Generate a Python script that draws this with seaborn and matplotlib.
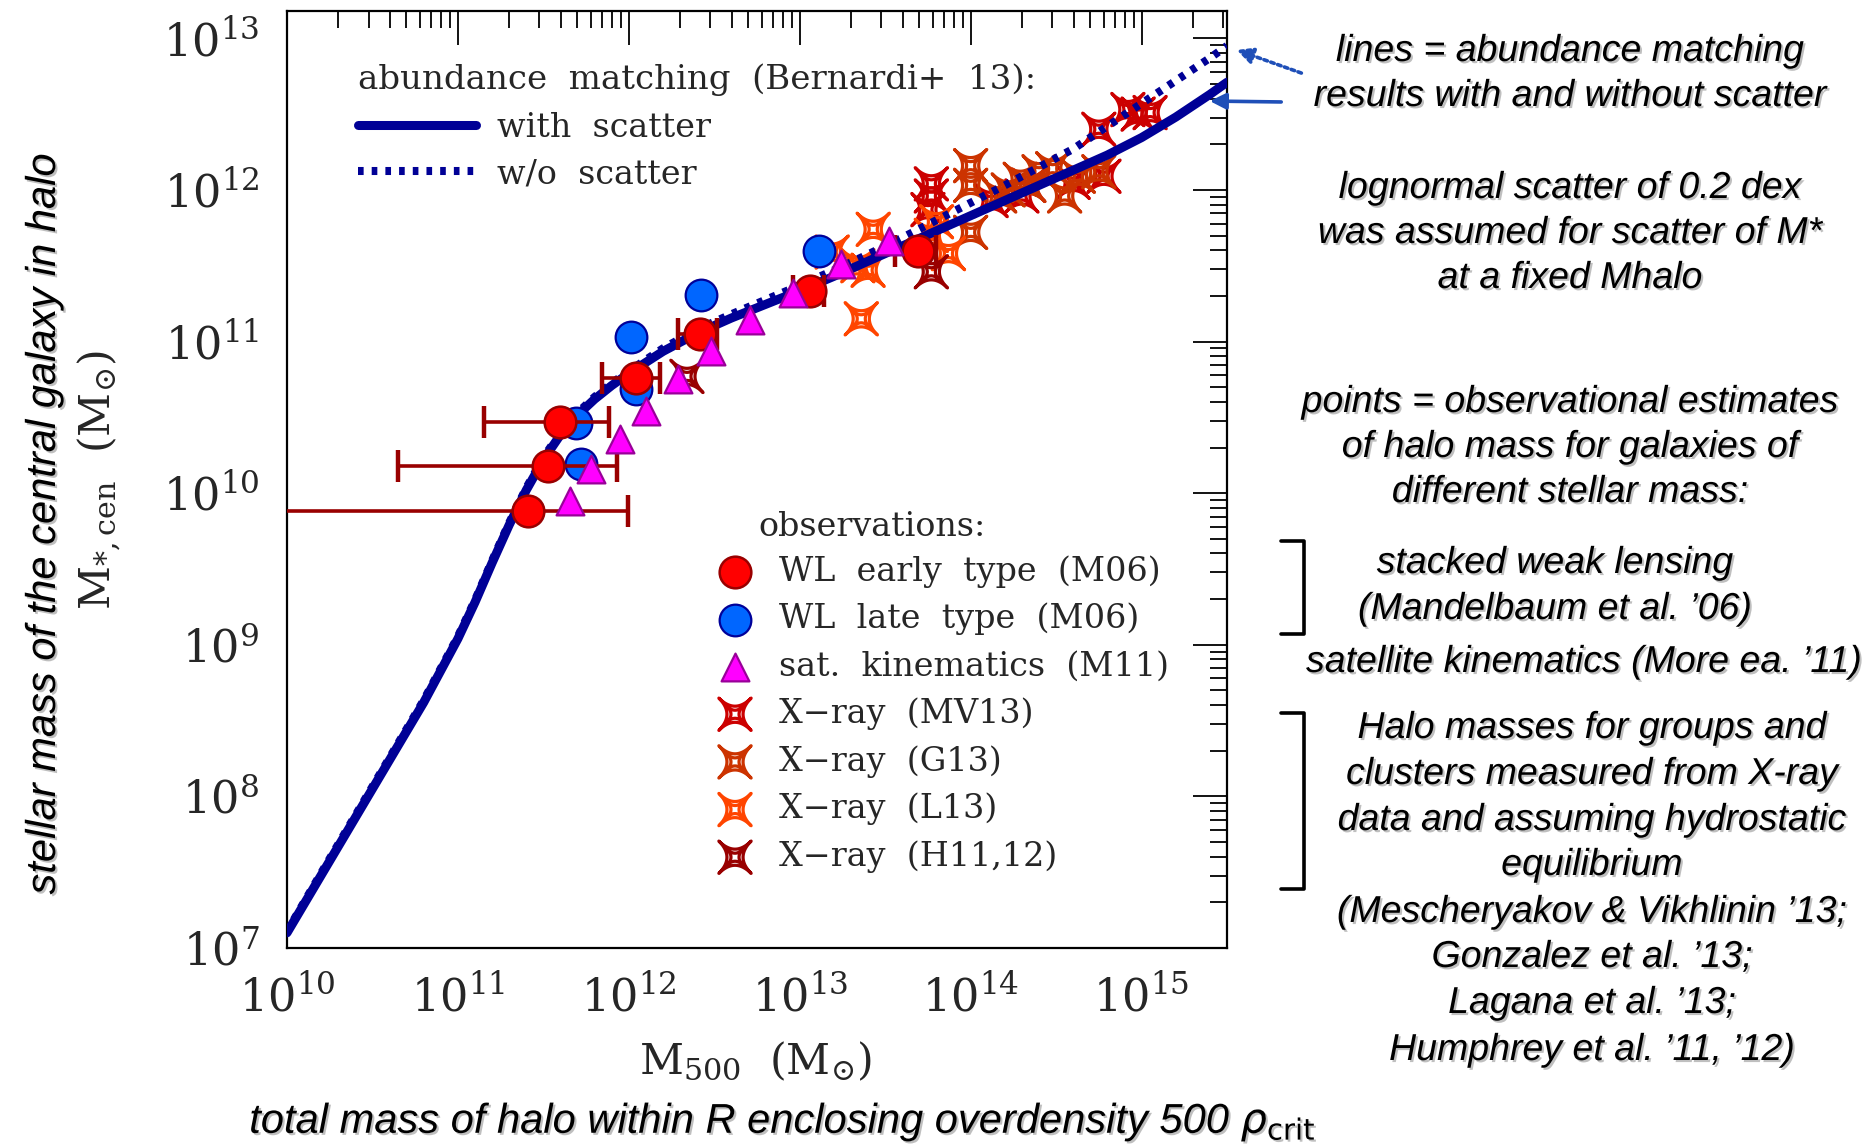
import numpy as np
import matplotlib
matplotlib.use("Agg")
import matplotlib.pyplot as plt
import seaborn as sns
from matplotlib.path import Path
from matplotlib.lines import Line2D
from matplotlib.patches import FancyArrowPatch
import matplotlib.patheffects as pe
from matplotlib.ticker import LogLocator, NullFormatter

# ---------------- data (log10 values) ----------------
am_log_mhalo = [10.0, 10.2, 10.4, 10.6, 10.8, 11.0, 11.1, 11.2, 11.3, 11.4, 11.5, 11.6,
                11.7, 11.8, 11.9, 12.0, 12.2, 12.4, 12.6, 12.8, 13.0, 13.2, 13.4, 13.6,
                13.8, 14.0, 14.2, 14.4, 14.6, 14.8, 15.0, 15.2, 15.4, 15.5]
am_log_mstar_scatter = [7.10, 7.48, 7.86, 8.24, 8.62, 9.04, 9.28, 9.54, 9.79, 10.02, 10.22, 10.385,
                        10.515, 10.62, 10.71, 10.79, 10.935, 11.055, 11.155, 11.245, 11.335, 11.43, 11.53, 11.63,
                        11.73, 11.83, 11.93, 12.03, 12.13, 12.23, 12.345, 12.48, 12.63, 12.71]
am_log_mstar_noscatter = [7.11, 7.495, 7.875, 8.255, 8.635, 9.055, 9.295, 9.555, 9.805, 10.035, 10.235, 10.40,
                          10.53, 10.635, 10.725, 10.805, 10.955, 11.08, 11.18, 11.275, 11.37, 11.47, 11.575, 11.685,
                          11.80, 11.915, 12.03, 12.15, 12.27, 12.42, 12.57, 12.72, 12.87, 12.95]

wl_early_log_mh = [11.41, 11.53, 11.60, 12.044, 12.415, 13.06, 13.69]
wl_early_log_ms = [9.88, 10.18, 10.47, 10.76, 11.05, 11.33, 11.60]
wl_early_log_mh_lo = [9.0, 10.648, 11.152, 11.844, 12.288, 12.96, 13.56]
wl_early_log_mh_hi = [11.996, 11.932, 11.883, 12.185, 12.516, 13.14, 13.80]

wl_late_log_mh = [11.69, 11.72, 12.04, 12.01, 12.42, 13.11]
wl_late_log_ms = [10.46, 10.19, 10.69, 11.03, 11.31, 11.60]

satkin_log_mh = [11.655, 11.78, 11.947, 12.10, 12.29, 12.48, 12.71, 12.96, 13.24, 13.52]
satkin_log_ms = [9.95, 10.16, 10.355, 10.545, 10.75, 10.935, 11.14, 11.32, 11.51, 11.665]

xray_mv13_log_mh = [13.77, 13.75, 13.77, 14.12, 14.30, 14.34, 14.60, 14.78, 14.75, 14.92, 15.05, 14.98]
xray_mv13_log_ms = [12.04, 11.87, 11.96, 11.93, 11.96, 12.03, 12.05, 12.09, 12.40, 12.53, 12.51, 12.50]

xray_g13_log_mh = [14.00, 14.00, 14.00, 14.17, 14.29, 14.34, 14.40, 14.48, 14.55, 14.63, 14.75, 14.22]
xray_g13_log_ms = [12.16, 12.03, 11.72, 11.96, 12.07, 12.03, 12.12, 12.14, 11.96, 12.09, 12.12, 12.00]

xray_l13_log_mh = [13.36, 13.43, 13.40, 13.34, 13.19, 13.80, 13.87, 13.77]
xray_l13_log_ms = [11.15, 11.74, 11.47, 11.50, 11.59, 11.79, 11.58, 11.70]

xray_h11_log_mh = [12.34, 13.77]
xray_h11_log_ms = [10.77, 11.46]

legend_lines_labels = ["with  scatter", "w/o  scatter"]
legend_obs_labels = ["WL  early  type  (M06)", "WL  late  type  (M06)", "sat.  kinematics  (M11)",
                     "X\u2212ray  (MV13)", "X\u2212ray  (G13)", "X\u2212ray  (L13)", "X\u2212ray  (H11,12)"]


def p10(v):
    return 10 ** np.asarray(v, dtype=float)


# ---------------- style ----------------
sns.set_style("white")
plt.rcParams["font.family"] = ["DejaVu Serif"]
plt.rcParams["mathtext.fontset"] = "dejavuserif"
plt.rcParams["axes.linewidth"] = 1.5

W, H = 1864, 1148


def fp(x, y):
    return (x / W, 1 - y / H)


fig = plt.figure(figsize=(W / 100, H / 100), dpi=100)
ax = fig.add_axes([287 / W, 1 - 948 / H, 940 / W, 937 / H])
ax.set_xscale("log")
ax.set_yscale("log")

# star marker (4-pointed, concave, with inner outline)
t = np.linspace(0, 2 * np.pi, 241)
pw = 4.0
cx = np.sign(np.cos(t)) * np.abs(np.cos(t)) ** pw
cy = np.sign(np.sin(t)) * np.abs(np.sin(t)) ** pw
rx = (cx - cy) / np.sqrt(2)
ry = (cx + cy) / np.sqrt(2)
outer = np.column_stack([rx, ry])
inner = outer * 0.5
verts = np.vstack([outer, inner])
codes = ([Path.MOVETO] + [Path.LINETO] * (len(outer) - 2) + [Path.CLOSEPOLY]) * 2
star = Path(verts, codes)

navy = "#000096"
# X-ray stars (bottom layer)
for mh, ms, col, lab in [
    (xray_mv13_log_mh, xray_mv13_log_ms, "#CC0000", legend_obs_labels[3]),
    (xray_g13_log_mh, xray_g13_log_ms, "#CC3300", legend_obs_labels[4]),
    (xray_l13_log_mh, xray_l13_log_ms, "#FF4500", legend_obs_labels[5]),
    (xray_h11_log_mh, xray_h11_log_ms, "#990000", legend_obs_labels[6]),
]:
    sns.scatterplot(x=p10(mh), y=p10(ms), marker=star, s=540, color=col, facecolor="none",
                    edgecolor=col, linewidth=2.3, ax=ax, legend=False, label=lab, zorder=2)

# abundance matching lines
sns.lineplot(x=p10(am_log_mhalo), y=p10(am_log_mstar_noscatter), ax=ax, color=navy,
             linewidth=5.8, linestyle=(0, (0.7, 1.0)), sort=False, estimator=None,
             legend=False, label=legend_lines_labels[1], zorder=3)
sns.lineplot(x=p10(am_log_mhalo), y=p10(am_log_mstar_scatter), ax=ax, color=navy,
             linewidth=6.5, sort=False, estimator=None, legend=False,
             label=legend_lines_labels[0], zorder=3.1)

# weak lensing late type
sns.scatterplot(x=p10(wl_late_log_mh), y=p10(wl_late_log_ms), marker="o", s=520,
                color="#0066FF", edgecolor="#000099", linewidth=1.6, ax=ax, legend=False,
                label=legend_obs_labels[1], zorder=4)
# error bars of early type
xe = p10(wl_early_log_mh)
ax.errorbar(xe, p10(wl_early_log_ms),
            xerr=[xe - p10(wl_early_log_mh_lo), p10(wl_early_log_mh_hi) - xe],
            fmt="none", ecolor="#990000", elinewidth=2.6, capsize=11.5, capthick=3.2, zorder=4.5)
sns.scatterplot(x=xe, y=p10(wl_early_log_ms), marker="o", s=520, color="#FF0000",
                edgecolor="#990000", linewidth=1.8, ax=ax, legend=False,
                label=legend_obs_labels[0], zorder=5)
# satellite kinematics
sns.scatterplot(x=p10(satkin_log_mh), y=p10(satkin_log_ms), marker="^", s=400, color="#FF00FF",
                edgecolor="#990099", linewidth=1.6, ax=ax, legend=False,
                label=legend_obs_labels[2], zorder=6)

# ---------------- axes ----------------
ax.set_xlim(1e10, 10 ** 15.5)
ax.set_ylim(1e7, 10 ** 13.18)
for a in (ax.xaxis, ax.yaxis):
    a.set_major_locator(LogLocator(base=10, numticks=30))
    a.set_minor_locator(LogLocator(base=10, subs=np.arange(2, 10), numticks=30))
    a.set_minor_formatter(NullFormatter())
ax.tick_params(which="both", direction="in", top=True, right=True, color="black")
ax.tick_params(which="major", length=24.5, width=1.3, labelsize=32, pad=20)
ax.tick_params(which="minor", length=12.5, width=1.3)
for s in ax.spines.values():
    s.set_color("black")
    s.set_linewidth(1.6)

xl = ax.set_xlabel(r"$\mathrm{M}_{500}\ \ (\mathrm{M}_{\odot})$", fontsize=31)
xl.set_verticalalignment("center")
ax.xaxis.set_label_coords((756 - 287) / 940, (948 - 1062) / 937)
yl = ax.set_ylabel(r"$\mathrm{M}_{*,\mathrm{cen}}\ \ (\mathrm{M}_{\odot})$", fontsize=31)
yl.set_verticalalignment("center")
ax.yaxis.set_label_coords((100 - 287) / 940, (948 - 480) / 937)

# ---------------- legends ----------------
handles, labels = ax.get_legend_handles_labels()
hmap = dict(zip(labels, handles))
lprop = {"family": "DejaVu Serif", "size": 24}
leg1 = ax.legend([hmap[l] for l in legend_lines_labels], legend_lines_labels,
                 loc="center left", bbox_to_anchor=fp(358, 151), bbox_transform=fig.transFigure,
                 frameon=False, prop=lprop, handlelength=3.55, handletextpad=0.63,
                 labelspacing=0.42, borderpad=0, borderaxespad=0)
ax.add_artist(leg1)
leg2 = ax.legend([hmap[l] for l in legend_obs_labels], legend_obs_labels,
                 loc="center left", bbox_to_anchor=fp(719, 714), bbox_transform=fig.transFigure,
                 frameon=False, prop=lprop, handlelength=0.96, handletextpad=0.84,
                 labelspacing=0.45, borderpad=0, borderaxespad=0, scatterpoints=1)
fig.text(*fp(358, 80), "abundance  matching  (Bernardi+  13):", ha="left", va="center",
         family="DejaVu Serif", size=24.5)
fig.text(*fp(758, 527), "observations:", ha="left", va="center", family="DejaVu Serif", size=24)

# ---------------- annotations ----------------
shadow = [pe.withSimplePatchShadow(offset=(1.5, -1.5), shadow_rgbFace=(0.55, 0.55, 0.55), alpha=0.55)]
sans = dict(family=["Liberation Sans", "DejaVu Sans"], style="italic", color="black",
            path_effects=shadow)

fig.text(*fp(44, 524), "stellar mass of the central galaxy in halo", rotation=90,
         ha="center", va="center", size=30, **sans)
fig.text(*fp(782, 1122), r"total mass of halo within R enclosing overdensity 500 $\rho_{\rm crit}$",
         ha="center", va="center", size=30, math_fontfamily="dejavusans", **sans)

notes = [
    ("lines = abundance matching", 1570, 51),
    ("results with and without scatter", 1570, 96),
    ("lognormal scatter of 0.2 dex", 1570, 188),
    ("was assumed for scatter of M*", 1570, 233),
    ("at a fixed Mhalo", 1570, 278),
    ("points = observational estimates", 1570, 402),
    ("of halo mass for galaxies of", 1570, 447),
    ("different stellar mass:", 1570, 492),
    ("stacked weak lensing", 1555, 563),
    ("(Mandelbaum et al. \u201906)", 1555, 609),
    ("satellite kinematics (More ea. \u201911)", 1584, 662),
    ("Halo masses for groups and", 1592, 728),
    ("clusters measured from X-ray", 1592, 774),
    ("data and assuming hydrostatic", 1592, 820),
    ("equilibrium", 1592, 865),
    ("(Mescheryakov & Vikhlinin \u201913;", 1592, 912),
    ("Gonzalez et al. \u201913;", 1592, 957),
    ("Lagana et al. \u201913;", 1592, 1003),
    ("Humphrey et al. \u201911, \u201912)", 1592, 1050),
]
for txt, x, y in notes:
    fig.text(*fp(x, y), txt, ha="center", va="center", size=27, **sans)

# brackets
for y0, y1 in [(541, 634), (713, 889)]:
    xs = [1281 / W, 1304 / W, 1304 / W, 1281 / W]
    ys = [1 - y0 / H, 1 - y0 / H, 1 - y1 / H, 1 - y1 / H]
    fig.add_artist(Line2D(xs, ys, transform=fig.transFigure, color="black", lw=2.6,
                          solid_joinstyle="round", solid_capstyle="round"))

# arrows to the lines
acol = "#1f4fb8"
fig.add_artist(FancyArrowPatch(fp(1304, 74), fp(1234, 49), transform=fig.transFigure,
                               arrowstyle="-|>", mutation_scale=24, lw=2.6, color=acol,
                               linestyle=(0, (1, 1))))
fig.add_artist(FancyArrowPatch(fp(1284, 102), fp(1207, 101), transform=fig.transFigure,
                               arrowstyle="-|>", mutation_scale=24, lw=2.6, color=acol))

fig.savefig("out.png", dpi=100, facecolor="white")
